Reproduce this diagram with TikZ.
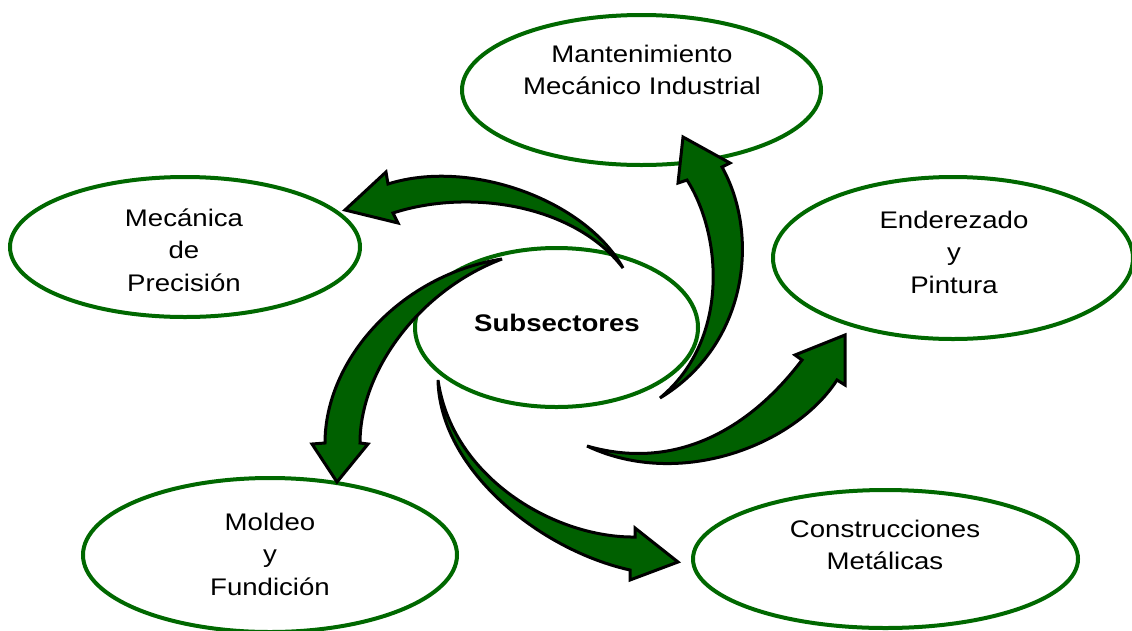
\documentclass[tikz,border=0pt]{standalone}
\usepackage{fontspec}
\setmainfont[FakeStretch=1.15]{Liberation Sans}
\usetikzlibrary{shapes.geometric}
\definecolor{ellgreen}{RGB}{0,104,0}
\definecolor{arrgreen}{RGB}{0,96,0}
\begin{document}
\begin{tikzpicture}[x=1pt,y=-1pt,
  oval/.style={ellipse,draw=ellgreen,line width=4pt,inner sep=0pt},
  lbl/.style={align=center,inner sep=0pt,font=\fontsize{24}{32.5}\selectfont},
  blockarrow/.style={fill=arrgreen,draw=black,line width=3pt,line join=miter,miter limit=4}]
\useasboundingbox (0,0) rectangle (1132,630);

% ellipses
\node[oval,minimum width=359pt,minimum height=150pt] (mant) at (641.5,90) {};
\node[oval,minimum width=350pt,minimum height=140pt] (mec) at (185,247) {};
\node[oval,minimum width=360pt,minimum height=162pt] (end) at (953,258) {};
\node[oval,minimum width=374pt,minimum height=154pt] (mold) at (270,555) {};
\node[oval,minimum width=385pt,minimum height=138pt] (cons) at (885.5,559) {};
\node[oval,minimum width=283pt,minimum height=159pt] (sub) at (556.5,327.5) {};

% labels
\node[lbl] (mant-t) at (642,70) {Mantenimiento\\Mecánico Industrial};
\node[lbl] (mec-t) at (184,250) {Mecánica\\de\\Precisión};
\node[lbl] (end-t) at (954,252) {Enderezado\\y\\Pintura};
\node[lbl] (mold-t) at (270,554) {Moldeo\\y\\Fundición};
\node[lbl] (cons-t) at (885,545) {Construcciones\\Metálicas};
\node[lbl,font=\fontsize{24}{32.5}\selectfont\bfseries] (sub-t) at (557,323) {Subsectores};

% arrow to Mecanica de Precision
\filldraw[blockarrow] (623,268) .. controls (585,200) and (470,158) .. (388,184)
  -- (386,172) -- (345,210) -- (398,223) -- (393,213)
  .. controls (470,188) and (575,205) .. (623,268) -- cycle;

% arrow to Mantenimiento
\filldraw[blockarrow] (660,398) .. controls (748,345) and (760,235) .. (722,167)
  -- (730,163) -- (683,137) -- (678,183) -- (687,180)
  .. controls (722,235) and (730,340) .. (660,398) -- cycle;

% arrow to Enderezado
\filldraw[blockarrow] (587,446) .. controls (670,470) and (745,435) .. (802,360)
  -- (795,355) -- (845,335) -- (845,385) -- (837,380)
  .. controls (795,445) and (680,490) .. (587,446) -- cycle;

% arrow to Construcciones
\filldraw[blockarrow] (438,380) .. controls (452,478) and (555,538) .. (635,537)
  -- (635,528) -- (678,562) -- (630,580) -- (630,570)
  .. controls (540,550) and (440,470) .. (438,380) -- cycle;

% arrow to Moldeo
\filldraw[blockarrow] (502,259) .. controls (400,275) and (325,360) .. (325,443)
  -- (312,444) -- (337,482) -- (368,444) -- (360,443)
  .. controls (360,370) and (420,290) .. (502,259) -- cycle;
\end{tikzpicture}
\end{document}
